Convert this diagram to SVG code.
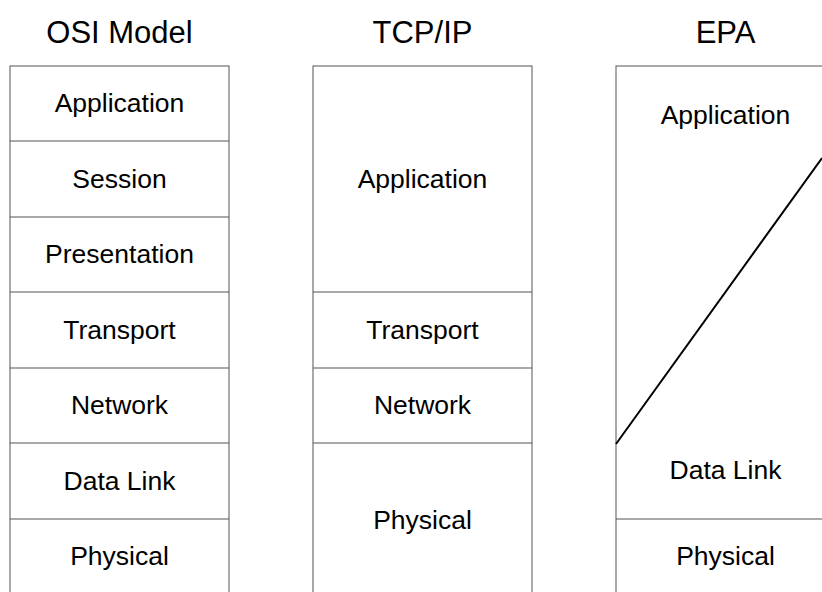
<svg xmlns="http://www.w3.org/2000/svg" width="822" height="592" viewBox="0 0 822 592">
<style>
.box{fill:#fff;stroke:#555;stroke-width:1}
.sep{stroke:#555;stroke-width:1.2}
.t{font-family:"Liberation Sans",Arial,sans-serif;font-size:26.5px;fill:#000;text-anchor:middle}
.h{font-family:"Liberation Sans",Arial,sans-serif;font-size:31px;fill:#000;text-anchor:middle}
</style>
<rect width="822" height="592" fill="#fff"/>
<g id="osi">
<text class="h" x="119.5" y="43">OSI Model</text>
<rect class="box" x="10" y="66" width="219" height="540"/>
<line class="sep" x1="10" y1="141" x2="229" y2="141"/>
<line class="sep" x1="10" y1="217" x2="229" y2="217"/>
<line class="sep" x1="10" y1="292" x2="229" y2="292"/>
<line class="sep" x1="10" y1="368" x2="229" y2="368"/>
<line class="sep" x1="10" y1="443" x2="229" y2="443"/>
<line class="sep" x1="10" y1="519" x2="229" y2="519"/>
<text class="t" x="119.5" y="112">Application</text>
<text class="t" x="119.5" y="188">Session</text>
<text class="t" x="119.5" y="263">Presentation</text>
<text class="t" x="119.5" y="339">Transport</text>
<text class="t" x="119.5" y="414">Network</text>
<text class="t" x="119.5" y="490">Data Link</text>
<text class="t" x="119.5" y="565">Physical</text>
</g>
<g id="tcpip">
<text class="h" x="422.5" y="43">TCP/IP</text>
<rect class="box" x="313" y="66" width="219" height="540"/>
<line class="sep" x1="313" y1="292" x2="532" y2="292"/>
<line class="sep" x1="313" y1="368" x2="532" y2="368"/>
<line class="sep" x1="313" y1="443" x2="532" y2="443"/>
<text class="t" x="422.5" y="188">Application</text>
<text class="t" x="422.5" y="339">Transport</text>
<text class="t" x="422.5" y="414">Network</text>
<text class="t" x="422.5" y="529">Physical</text>
</g>
<g id="epa">
<text class="h" x="725.5" y="43">EPA</text>
<rect class="box" x="616" y="66" width="219" height="540"/>
<line class="sep" x1="616" y1="519" x2="835" y2="519"/>
<text class="t" x="725.5" y="124">Application</text>
<text class="t" x="725.5" y="479">Data Link</text>
<text class="t" x="725.5" y="565">Physical</text>
</g>
<g id="connectors">
<line x1="616" y1="444" x2="822" y2="158" stroke="#000" stroke-width="2"/>
</g>
</svg>
